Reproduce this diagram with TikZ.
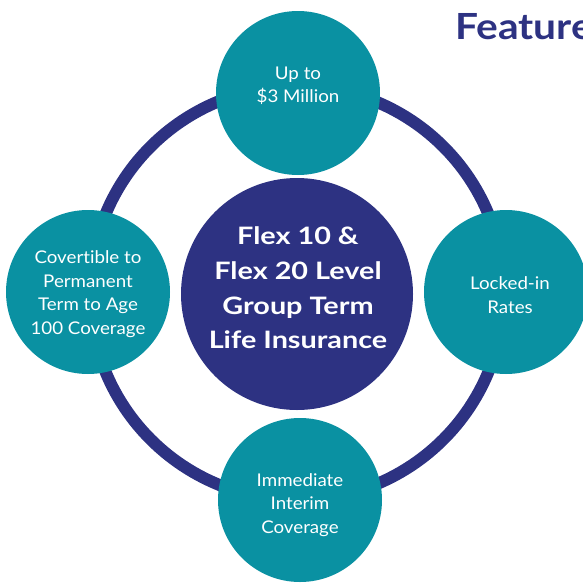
\documentclass[tikz,border=0pt]{standalone}
\usepackage{fontspec}
\setmainfont[RawFeature=-liga]{Lato}
\newfontfamily\smallfont[FakeStretch=1.07,RawFeature=-liga]{Lato}
\newfontfamily\hubfont[FakeStretch=1.2,RawFeature=-liga]{Lato}
\newfontfamily\titlefont[FakeStretch=1.13,RawFeature=-liga]{Lato}
\definecolor{navy}{HTML}{2D3282}
\definecolor{teal}{HTML}{0A91A2}
\begin{document}
\begin{tikzpicture}[x=1pt,y=-1pt,
  feat/.style={circle,fill=teal,minimum size=164pt,inner sep=0pt},
  ftext/.style={text=white,align=center,font=\smallfont\fontsize{17.5}{23.5}\selectfont},
  ctext/.style={text=white,align=center,font=\hubfont\bfseries\fontsize{24}{34.7}\selectfont}]
\useasboundingbox (0,0) rectangle (583,584);
\clip (0,0) rectangle (583,584);
\draw[navy,line width=12pt] (297,293) circle (207);
\node[circle,fill=navy,minimum size=232pt,inner sep=0pt] (hub) at (297,294) {};
\node[feat] (top) at (298,93) {};
\node[feat] (left) at (88,292) {};
\node[feat] (right) at (506,292) {};
\node[feat] (bottom) at (300,500) {};
\node[ctext] (hubtext) at (298,288) {Flex 10 \&\\Flex 20 Level\\Group Term\\Life Insurance};
\node[ftext] (toptext) at (298,86) {Up to\\\$3 Million};
\node[ftext] (lefttext) at (88,294) {Covertible to\\Permanent\\Term to Age\\100 Coverage};
\node[ftext] (righttext) at (510,295) {Locked-in\\Rates};
\node[ftext] (bottomtext) at (300,505) {Immediate\\Interim\\Coverage};
\node[anchor=base west,text=navy,font=\titlefont\bfseries\fontsize{36}{40}\selectfont,inner sep=0pt] (title) at (455,39) {Features};
\end{tikzpicture}
\end{document}
